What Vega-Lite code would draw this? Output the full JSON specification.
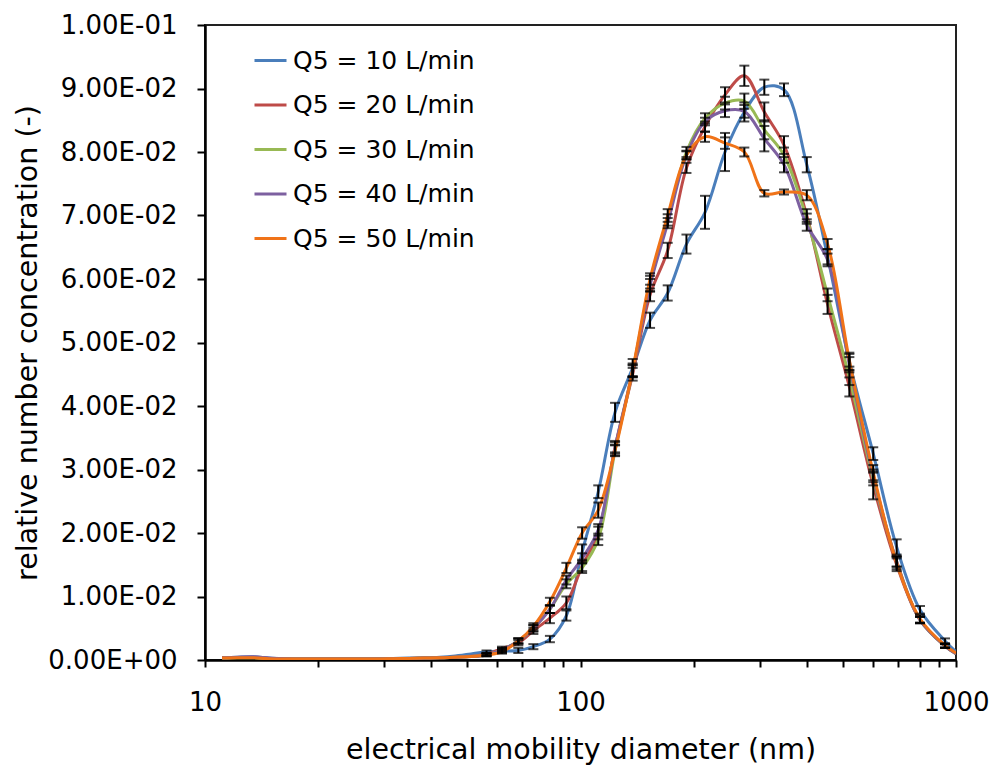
{
  "$schema": "https://vega.github.io/schema/vega-lite/v6.json",
  "width": 751,
  "height": 635,
  "autosize": "none",
  "padding": {"left": 205, "top": 25, "right": 36, "bottom": 109},
  "background": "white",
  "config": {
    "font": "DejaVu Sans",
    "view": {"stroke": "#222222", "strokeWidth": 2},
    "axis": {"grid": false, "domainColor": "black", "domainWidth": 2.5, "tickColor": "black", "tickWidth": 2, "labelColor": "black", "titleColor": "black", "labelFont": "DejaVu Sans", "titleFont": "DejaVu Sans", "titleFontWeight": "normal"}
  },
  "data": {"values": [
    {"d":11.1,"s":"Q5 = 10 L/min","c":0.00035,"e":0},{"d":11.1,"s":"Q5 = 20 L/min","c":0.00035,"e":0},{"d":11.1,"s":"Q5 = 30 L/min","c":0.0003,"e":0},{"d":11.1,"s":"Q5 = 40 L/min","c":0.00035,"e":0},{"d":11.1,"s":"Q5 = 50 L/min","c":0.0003,"e":0},
    {"d":12.2,"s":"Q5 = 10 L/min","c":0.00045,"e":0},{"d":12.2,"s":"Q5 = 20 L/min","c":0.0004,"e":0},{"d":12.2,"s":"Q5 = 30 L/min","c":0.00035,"e":0},{"d":12.2,"s":"Q5 = 40 L/min","c":0.00045,"e":0},{"d":12.2,"s":"Q5 = 50 L/min","c":0.00035,"e":0},
    {"d":13.5,"s":"Q5 = 10 L/min","c":0.0005,"e":0},{"d":13.5,"s":"Q5 = 20 L/min","c":0.0004,"e":0},{"d":13.5,"s":"Q5 = 30 L/min","c":0.00035,"e":0},{"d":13.5,"s":"Q5 = 40 L/min","c":0.0005,"e":0},{"d":13.5,"s":"Q5 = 50 L/min","c":0.00035,"e":0},
    {"d":14.8,"s":"Q5 = 10 L/min","c":0.0003,"e":0},{"d":14.8,"s":"Q5 = 20 L/min","c":0.00025,"e":0},{"d":14.8,"s":"Q5 = 30 L/min","c":0.0002,"e":0},{"d":14.8,"s":"Q5 = 40 L/min","c":0.0003,"e":0},{"d":14.8,"s":"Q5 = 50 L/min","c":0.0002,"e":0},
    {"d":16.3,"s":"Q5 = 10 L/min","c":0.0002,"e":0},{"d":16.3,"s":"Q5 = 20 L/min","c":0.0002,"e":0},{"d":16.3,"s":"Q5 = 30 L/min","c":0.00015,"e":0},{"d":16.3,"s":"Q5 = 40 L/min","c":0.0002,"e":0},{"d":16.3,"s":"Q5 = 50 L/min","c":0.00015,"e":0},
    {"d":17.9,"s":"Q5 = 10 L/min","c":0.0002,"e":0},{"d":17.9,"s":"Q5 = 20 L/min","c":0.00015,"e":0},{"d":17.9,"s":"Q5 = 30 L/min","c":0.00015,"e":0},{"d":17.9,"s":"Q5 = 40 L/min","c":0.00015,"e":0},{"d":17.9,"s":"Q5 = 50 L/min","c":0.00015,"e":0},
    {"d":19.7,"s":"Q5 = 10 L/min","c":0.0002,"e":0},{"d":19.7,"s":"Q5 = 20 L/min","c":0.00015,"e":0},{"d":19.7,"s":"Q5 = 30 L/min","c":0.00015,"e":0},{"d":19.7,"s":"Q5 = 40 L/min","c":0.00015,"e":0},{"d":19.7,"s":"Q5 = 50 L/min","c":0.00015,"e":0},
    {"d":21.7,"s":"Q5 = 10 L/min","c":0.0002,"e":0},{"d":21.7,"s":"Q5 = 20 L/min","c":0.00015,"e":0},{"d":21.7,"s":"Q5 = 30 L/min","c":0.00015,"e":0},{"d":21.7,"s":"Q5 = 40 L/min","c":0.00015,"e":0},{"d":21.7,"s":"Q5 = 50 L/min","c":0.00015,"e":0},
    {"d":23.8,"s":"Q5 = 10 L/min","c":0.0002,"e":0},{"d":23.8,"s":"Q5 = 20 L/min","c":0.00015,"e":0},{"d":23.8,"s":"Q5 = 30 L/min","c":0.00015,"e":0},{"d":23.8,"s":"Q5 = 40 L/min","c":0.00015,"e":0},{"d":23.8,"s":"Q5 = 50 L/min","c":0.00015,"e":0},
    {"d":26.2,"s":"Q5 = 10 L/min","c":0.0002,"e":0},{"d":26.2,"s":"Q5 = 20 L/min","c":0.00015,"e":0},{"d":26.2,"s":"Q5 = 30 L/min","c":0.00015,"e":0},{"d":26.2,"s":"Q5 = 40 L/min","c":0.00015,"e":0},{"d":26.2,"s":"Q5 = 50 L/min","c":0.00015,"e":0},
    {"d":28.8,"s":"Q5 = 10 L/min","c":0.0002,"e":0},{"d":28.8,"s":"Q5 = 20 L/min","c":0.0002,"e":0},{"d":28.8,"s":"Q5 = 30 L/min","c":0.00015,"e":0},{"d":28.8,"s":"Q5 = 40 L/min","c":0.00015,"e":0},{"d":28.8,"s":"Q5 = 50 L/min","c":0.00015,"e":0},
    {"d":31.7,"s":"Q5 = 10 L/min","c":0.00025,"e":0},{"d":31.7,"s":"Q5 = 20 L/min","c":0.0002,"e":0},{"d":31.7,"s":"Q5 = 30 L/min","c":0.0002,"e":0},{"d":31.7,"s":"Q5 = 40 L/min","c":0.0002,"e":0},{"d":31.7,"s":"Q5 = 50 L/min","c":0.0002,"e":0},
    {"d":34.9,"s":"Q5 = 10 L/min","c":0.0003,"e":0},{"d":34.9,"s":"Q5 = 20 L/min","c":0.00025,"e":0},{"d":34.9,"s":"Q5 = 30 L/min","c":0.00025,"e":0},{"d":34.9,"s":"Q5 = 40 L/min","c":0.00025,"e":0},{"d":34.9,"s":"Q5 = 50 L/min","c":0.00025,"e":0},
    {"d":38.4,"s":"Q5 = 10 L/min","c":0.00035,"e":0},{"d":38.4,"s":"Q5 = 20 L/min","c":0.0003,"e":0},{"d":38.4,"s":"Q5 = 30 L/min","c":0.0003,"e":0},{"d":38.4,"s":"Q5 = 40 L/min","c":0.0003,"e":0},{"d":38.4,"s":"Q5 = 50 L/min","c":0.0003,"e":0},
    {"d":42.2,"s":"Q5 = 10 L/min","c":0.00045,"e":0},{"d":42.2,"s":"Q5 = 20 L/min","c":0.00035,"e":0},{"d":42.2,"s":"Q5 = 30 L/min","c":0.00035,"e":0},{"d":42.2,"s":"Q5 = 40 L/min","c":0.00035,"e":0},{"d":42.2,"s":"Q5 = 50 L/min","c":0.00035,"e":0},
    {"d":46.4,"s":"Q5 = 10 L/min","c":0.00065,"e":0},{"d":46.4,"s":"Q5 = 20 L/min","c":0.00045,"e":0},{"d":46.4,"s":"Q5 = 30 L/min","c":0.00045,"e":0},{"d":46.4,"s":"Q5 = 40 L/min","c":0.00045,"e":0},{"d":46.4,"s":"Q5 = 50 L/min","c":0.00045,"e":0},
    {"d":51.1,"s":"Q5 = 10 L/min","c":0.00095,"e":0},{"d":51.1,"s":"Q5 = 20 L/min","c":0.0006,"e":0},{"d":51.1,"s":"Q5 = 30 L/min","c":0.00055,"e":0},{"d":51.1,"s":"Q5 = 40 L/min","c":0.00055,"e":0},{"d":51.1,"s":"Q5 = 50 L/min","c":0.00055,"e":0},
    {"d":56.2,"s":"Q5 = 10 L/min","c":0.0013,"e":0.0002},{"d":56.2,"s":"Q5 = 20 L/min","c":0.0009,"e":0.0002},{"d":56.2,"s":"Q5 = 30 L/min","c":0.0008,"e":0.0002},{"d":56.2,"s":"Q5 = 40 L/min","c":0.0008,"e":0.0002},{"d":56.2,"s":"Q5 = 50 L/min","c":0.0008,"e":0.0002},
    {"d":61.8,"s":"Q5 = 10 L/min","c":0.0014,"e":0.0003},{"d":61.8,"s":"Q5 = 20 L/min","c":0.0018,"e":0.0003},{"d":61.8,"s":"Q5 = 30 L/min","c":0.0016,"e":0.0003},{"d":61.8,"s":"Q5 = 40 L/min","c":0.0016,"e":0.0003},{"d":61.8,"s":"Q5 = 50 L/min","c":0.0013,"e":0.0003},
    {"d":68.3,"s":"Q5 = 10 L/min","c":0.0015,"e":0.0004},{"d":68.3,"s":"Q5 = 20 L/min","c":0.0027,"e":0.0004},{"d":68.3,"s":"Q5 = 30 L/min","c":0.003,"e":0.0004},{"d":68.3,"s":"Q5 = 40 L/min","c":0.003,"e":0.0004},{"d":68.3,"s":"Q5 = 50 L/min","c":0.003,"e":0.0004},
    {"d":74.9,"s":"Q5 = 10 L/min","c":0.0021,"e":0.0004},{"d":74.9,"s":"Q5 = 20 L/min","c":0.0046,"e":0.0005},{"d":74.9,"s":"Q5 = 30 L/min","c":0.005,"e":0.0005},{"d":74.9,"s":"Q5 = 40 L/min","c":0.005,"e":0.0005},{"d":74.9,"s":"Q5 = 50 L/min","c":0.0053,"e":0.0005},
    {"d":82.9,"s":"Q5 = 10 L/min","c":0.0033,"e":0.0005},{"d":82.9,"s":"Q5 = 20 L/min","c":0.0066,"e":0.0008},{"d":82.9,"s":"Q5 = 30 L/min","c":0.008,"e":0.0006},{"d":82.9,"s":"Q5 = 40 L/min","c":0.008,"e":0.0006},{"d":82.9,"s":"Q5 = 50 L/min","c":0.0092,"e":0.0006},
    {"d":91.7,"s":"Q5 = 10 L/min","c":0.007,"e":0.0008},{"d":91.7,"s":"Q5 = 20 L/min","c":0.009,"e":0.001},{"d":91.7,"s":"Q5 = 30 L/min","c":0.012,"e":0.0007},{"d":91.7,"s":"Q5 = 40 L/min","c":0.0126,"e":0.0007},{"d":91.7,"s":"Q5 = 50 L/min","c":0.0145,"e":0.0008},
    {"d":101,"s":"Q5 = 10 L/min","c":0.017,"e":0.0012},{"d":101,"s":"Q5 = 20 L/min","c":0.0148,"e":0.0008},{"d":101,"s":"Q5 = 30 L/min","c":0.0145,"e":0.0008},{"d":101,"s":"Q5 = 40 L/min","c":0.016,"e":0.0008},{"d":101,"s":"Q5 = 50 L/min","c":0.02,"e":0.0009},
    {"d":111.5,"s":"Q5 = 10 L/min","c":0.0265,"e":0.001},{"d":111.5,"s":"Q5 = 20 L/min","c":0.02,"e":0.001},{"d":111.5,"s":"Q5 = 30 L/min","c":0.019,"e":0.0009},{"d":111.5,"s":"Q5 = 40 L/min","c":0.0205,"e":0.0009},{"d":111.5,"s":"Q5 = 50 L/min","c":0.0236,"e":0.0012},
    {"d":123.6,"s":"Q5 = 10 L/min","c":0.039,"e":0.0015},{"d":123.6,"s":"Q5 = 20 L/min","c":0.0335,"e":0.001},{"d":123.6,"s":"Q5 = 30 L/min","c":0.033,"e":0.0008},{"d":123.6,"s":"Q5 = 40 L/min","c":0.0335,"e":0.0008},{"d":123.6,"s":"Q5 = 50 L/min","c":0.033,"e":0.0009},
    {"d":137.7,"s":"Q5 = 10 L/min","c":0.046,"e":0.0014},{"d":137.7,"s":"Q5 = 20 L/min","c":0.045,"e":0.001},{"d":137.7,"s":"Q5 = 30 L/min","c":0.0455,"e":0.001},{"d":137.7,"s":"Q5 = 40 L/min","c":0.0455,"e":0.0009},{"d":137.7,"s":"Q5 = 50 L/min","c":0.0457,"e":0.001},
    {"d":153.2,"s":"Q5 = 10 L/min","c":0.0535,"e":0.0012},{"d":153.2,"s":"Q5 = 20 L/min","c":0.0575,"e":0.001},{"d":153.2,"s":"Q5 = 30 L/min","c":0.0593,"e":0.0012},{"d":153.2,"s":"Q5 = 40 L/min","c":0.059,"e":0.001},{"d":153.2,"s":"Q5 = 50 L/min","c":0.06,"e":0.0009},
    {"d":170.7,"s":"Q5 = 10 L/min","c":0.0578,"e":0.0012},{"d":170.7,"s":"Q5 = 20 L/min","c":0.0645,"e":0.0012},{"d":170.7,"s":"Q5 = 30 L/min","c":0.0693,"e":0.0009},{"d":170.7,"s":"Q5 = 40 L/min","c":0.0688,"e":0.0008},{"d":170.7,"s":"Q5 = 50 L/min","c":0.07,"e":0.001},
    {"d":191.5,"s":"Q5 = 10 L/min","c":0.0655,"e":0.0015},{"d":191.5,"s":"Q5 = 20 L/min","c":0.0775,"e":0.0008},{"d":191.5,"s":"Q5 = 30 L/min","c":0.08,"e":0.0008},{"d":191.5,"s":"Q5 = 40 L/min","c":0.0795,"e":0.0007},{"d":191.5,"s":"Q5 = 50 L/min","c":0.0795,"e":0.0006},
    {"d":214.6,"s":"Q5 = 10 L/min","c":0.0705,"e":0.0026},{"d":214.6,"s":"Q5 = 20 L/min","c":0.084,"e":0.0008},{"d":214.6,"s":"Q5 = 30 L/min","c":0.0853,"e":0.0008},{"d":214.6,"s":"Q5 = 40 L/min","c":0.0848,"e":0.0006},{"d":214.6,"s":"Q5 = 50 L/min","c":0.0824,"e":0.0008},
    {"d":242.6,"s":"Q5 = 10 L/min","c":0.08,"e":0.003},{"d":242.6,"s":"Q5 = 20 L/min","c":0.089,"e":0.0012},{"d":242.6,"s":"Q5 = 30 L/min","c":0.0877,"e":0.001},{"d":242.6,"s":"Q5 = 40 L/min","c":0.0865,"e":0.001},{"d":242.6,"s":"Q5 = 50 L/min","c":0.0814,"e":0.0009},
    {"d":273.1,"s":"Q5 = 10 L/min","c":0.0863,"e":0.0015},{"d":273.1,"s":"Q5 = 20 L/min","c":0.092,"e":0.0016},{"d":273.1,"s":"Q5 = 30 L/min","c":0.088,"e":0.0012},{"d":273.1,"s":"Q5 = 40 L/min","c":0.0864,"e":0.001},{"d":273.1,"s":"Q5 = 50 L/min","c":0.08,"e":0.0007},
    {"d":308.7,"s":"Q5 = 10 L/min","c":0.0902,"e":0.0012},{"d":308.7,"s":"Q5 = 20 L/min","c":0.0863,"e":0.0015},{"d":308.7,"s":"Q5 = 30 L/min","c":0.0835,"e":0.0015},{"d":308.7,"s":"Q5 = 40 L/min","c":0.0821,"e":0.002},{"d":308.7,"s":"Q5 = 50 L/min","c":0.0735,"e":0.0005},
    {"d":348.3,"s":"Q5 = 10 L/min","c":0.0898,"e":0.001},{"d":348.3,"s":"Q5 = 20 L/min","c":0.0811,"e":0.0014},{"d":348.3,"s":"Q5 = 30 L/min","c":0.0795,"e":0.0012},{"d":348.3,"s":"Q5 = 40 L/min","c":0.078,"e":0.0012},{"d":348.3,"s":"Q5 = 50 L/min","c":0.0737,"e":0.0004},
    {"d":400.5,"s":"Q5 = 10 L/min","c":0.078,"e":0.0012},{"d":400.5,"s":"Q5 = 20 L/min","c":0.07,"e":0.001},{"d":400.5,"s":"Q5 = 30 L/min","c":0.0695,"e":0.0008},{"d":400.5,"s":"Q5 = 40 L/min","c":0.0685,"e":0.0009},{"d":400.5,"s":"Q5 = 50 L/min","c":0.0732,"e":0.0008},
    {"d":455,"s":"Q5 = 10 L/min","c":0.0635,"e":0.0012},{"d":455,"s":"Q5 = 20 L/min","c":0.056,"e":0.0015},{"d":455,"s":"Q5 = 30 L/min","c":0.0575,"e":0.001},{"d":455,"s":"Q5 = 40 L/min","c":0.063,"e":0.001},{"d":455,"s":"Q5 = 50 L/min","c":0.0655,"e":0.0008},
    {"d":520,"s":"Q5 = 10 L/min","c":0.047,"e":0.0014},{"d":520,"s":"Q5 = 20 L/min","c":0.043,"e":0.0015},{"d":520,"s":"Q5 = 30 L/min","c":0.0445,"e":0.0012},{"d":520,"s":"Q5 = 40 L/min","c":0.0465,"e":0.0012},{"d":520,"s":"Q5 = 50 L/min","c":0.0472,"e":0.001},
    {"d":602,"s":"Q5 = 10 L/min","c":0.0325,"e":0.001},{"d":602,"s":"Q5 = 20 L/min","c":0.0275,"e":0.0022},{"d":602,"s":"Q5 = 30 L/min","c":0.0285,"e":0.001},{"d":602,"s":"Q5 = 40 L/min","c":0.029,"e":0.001},{"d":602,"s":"Q5 = 50 L/min","c":0.0295,"e":0.0012},
    {"d":695,"s":"Q5 = 10 L/min","c":0.0178,"e":0.0012},{"d":695,"s":"Q5 = 20 L/min","c":0.015,"e":0.001},{"d":695,"s":"Q5 = 30 L/min","c":0.0155,"e":0.0008},{"d":695,"s":"Q5 = 40 L/min","c":0.0155,"e":0.0008},{"d":695,"s":"Q5 = 50 L/min","c":0.0153,"e":0.001},
    {"d":802,"s":"Q5 = 10 L/min","c":0.0079,"e":0.0006},{"d":802,"s":"Q5 = 20 L/min","c":0.0063,"e":0.0005},{"d":802,"s":"Q5 = 30 L/min","c":0.0063,"e":0.0005},{"d":802,"s":"Q5 = 40 L/min","c":0.0063,"e":0.0005},{"d":802,"s":"Q5 = 50 L/min","c":0.0065,"e":0.0006},
    {"d":935,"s":"Q5 = 10 L/min","c":0.003,"e":0.0004},{"d":935,"s":"Q5 = 20 L/min","c":0.0022,"e":0.0003},{"d":935,"s":"Q5 = 30 L/min","c":0.0022,"e":0.0003},{"d":935,"s":"Q5 = 40 L/min","c":0.0022,"e":0.0003},{"d":935,"s":"Q5 = 50 L/min","c":0.0023,"e":0.0003},
    {"d":1000,"s":"Q5 = 10 L/min","c":0.0013,"e":0},{"d":1000,"s":"Q5 = 20 L/min","c":0.001,"e":0},{"d":1000,"s":"Q5 = 30 L/min","c":0.001,"e":0},{"d":1000,"s":"Q5 = 40 L/min","c":0.001,"e":0},{"d":1000,"s":"Q5 = 50 L/min","c":0.0011,"e":0}
  ]},
  "layer": [
    {
      "mark": {"type": "line", "interpolate": "catmull-rom", "strokeWidth": 3, "clip": true},
      "encoding": {
        "x": {"field": "d", "type": "quantitative",
          "title": "electrical mobility diameter (nm)",
          "scale": {"type": "log", "domain": [10, 1000], "nice": false},
          "axis": {"values": [10,20,30,40,50,60,70,80,90,100,200,300,400,500,600,700,800,900,1000],
            "labelExpr": "datum.value == 10 || datum.value == 100 || datum.value == 1000 ? format(datum.value, 'd') : ''",
            "tickSize": 7, "labelFontSize": 26, "labelPadding": 22, "labelFlush": false, "labelOverlap": false,
            "titleFontSize": 28.5, "titlePadding": 20}},
        "y": {"field": "c", "type": "quantitative",
          "title": "relative number concentration (-)",
          "scale": {"domain": [0, 0.1], "nice": false, "zero": true},
          "axis": {"values": [0,0.01,0.02,0.03,0.04,0.05,0.06,0.07,0.08,0.09,0.1],
            "labelExpr": "datum.value == 0 ? '0.00E+00' : (datum.value > 0.095 ? format(datum.value*10, '.2f') + 'E-01' : format(datum.value*100, '.2f') + 'E-02')",
            "tickSize": 8, "labelFontSize": 26, "labelPadding": 20, "labelFlush": false, "labelOverlap": false,
            "titleFontSize": 28.5, "titlePadding": 5}},
        "color": {"field": "s", "type": "nominal",
          "scale": {"domain": ["Q5 = 10 L/min","Q5 = 20 L/min","Q5 = 30 L/min","Q5 = 40 L/min","Q5 = 50 L/min"],
                    "range": ["#4A7EBB","#BE4B48","#98B954","#7D60A0","#F07318"]},
          "legend": {"title": null, "orient": "none", "legendX": 48, "legendY": 18, "symbolType": "stroke", "symbolSize": 1024, "symbolStrokeWidth": 3, "labelFontSize": 25, "labelOffset": 5, "labelLimit": 0, "rowPadding": 13.5, "padding": 0, "labelColor": "black", "labelFont": "DejaVu Sans"}}
      }
    },
    {
      "transform": [{"filter": "datum.e > 0"}],
      "mark": {"type": "errorbar", "color": "black", "thickness": 2, "ticks": {"size": 10, "color": "black", "thickness": 2}},
      "encoding": {
        "x": {"field": "d", "type": "quantitative", "title": "electrical mobility diameter (nm)"},
        "y": {"field": "c", "type": "quantitative", "title": "relative number concentration (-)"},
        "yError": {"field": "e"}
      }
    }
  ]
}
